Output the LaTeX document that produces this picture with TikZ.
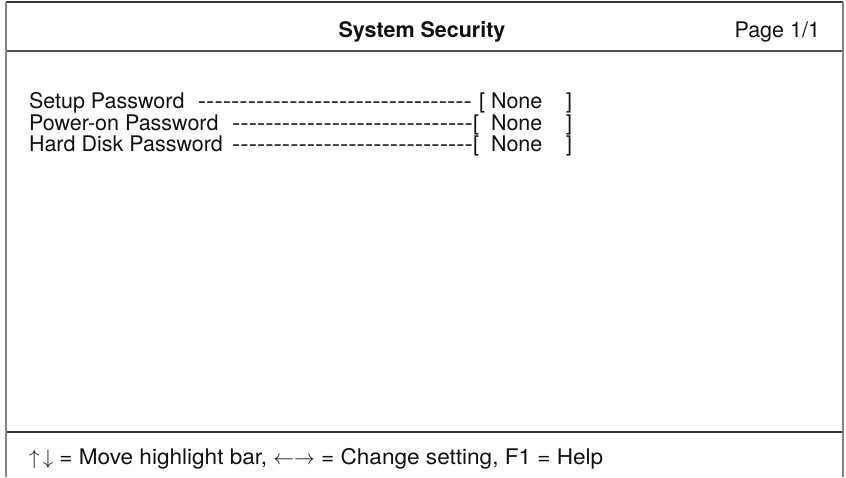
\documentclass[tikz,border=0pt]{standalone}
\usepackage{fontspec}
\setmainfont{TeX Gyre Heros}[Ligatures=TeXOff]
\newfontfamily\dashfont{TeX Gyre Heros}[Ligatures=TeXOff,FakeStretch=1.16]
\newfontfamily\footfont{TeX Gyre Heros}[Ligatures=TeXOff,FakeStretch=1.05]
\definecolor{ink}{HTML}{111111}
\definecolor{frame}{HTML}{858585}
\definecolor{rule}{HTML}{505050}
\begin{document}
\begin{tikzpicture}[x=1pt,y=-1pt,
  txt/.style={inner sep=0pt,outer sep=0pt,text=ink,font=\fontsize{21.5}{25}\selectfont},
  boldtxt/.style={txt,font=\fontsize{21.5}{25}\selectfont\bfseries},
  dashtxt/.style={txt,font=\fontsize{21.5}{25}\dashfont},
  foottxt/.style={txt,font=\fontsize{21.5}{25}\footfont},
  sideline/.style={draw=frame,line width=2pt},
  topline/.style={draw=ink!85,line width=1.3pt},
  sepline/.style={draw=rule,line width=2.6pt},
  footline/.style={draw=ink!85,line width=1.6pt}]
\useasboundingbox (0,0) rectangle (846,477);
\fill[white] (0,0) rectangle (846,477);
% frame
\coordinate (tl) at (6,2);
\coordinate (tr) at (843,2);
\coordinate (bl) at (6,477);
\coordinate (br) at (843,477);
\coordinate (hl) at (6,51);
\coordinate (hr) at (843,51);
\coordinate (fl) at (6,432);
\coordinate (fr) at (843,432);
\draw[topline] (tl) -- (tr);
\draw[sepline] (hl) -- (hr);
\draw[footline] (fl) -- (fr);
\draw[sideline] (tl) -- (bl);
\draw[sideline] (tr) -- (br);
% header
\node[boldtxt,anchor=base] (title) at (422,37) {System Security};
\node[txt,anchor=base east] (page) at (820,37) {Page 1/1};
% rows
\node[txt,anchor=base west] (l1) at (29,108) {Setup Password};
\node[dashtxt,anchor=base east] (d1) at (472,108) {---------------------------------};
\node[txt,anchor=base west] (o1) at (479,108) {[};
\node[txt,anchor=base west] (n1) at (491,108) {None};
\node[txt,anchor=base west] (c1) at (566,108) {]};
\node[txt,anchor=base west] (l2) at (29,130) {Power-on Password};
\node[dashtxt,anchor=base east] (d2) at (473,130) {-----------------------------};
\node[txt,anchor=base west] (o2) at (473,130) {[};
\node[txt,anchor=base west] (n2) at (491,130) {None};
\node[txt,anchor=base west] (c2) at (566,130) {]};
\node[txt,anchor=base west] (l3) at (29,151) {Hard Disk Password};
\node[dashtxt,anchor=base east] (d3) at (473,151) {-----------------------------};
\node[txt,anchor=base west] (o3) at (473,151) {[};
\node[txt,anchor=base west] (n3) at (491,151) {None};
\node[txt,anchor=base west] (c3) at (566,151) {]};
% footer
\node[foottxt,anchor=base west] (help) at (29,464) {$\uparrow\,\downarrow$ = Move highlight bar, $\leftarrow\rightarrow$ = Change setting, F1 = Help};
\end{tikzpicture}
\end{document}
